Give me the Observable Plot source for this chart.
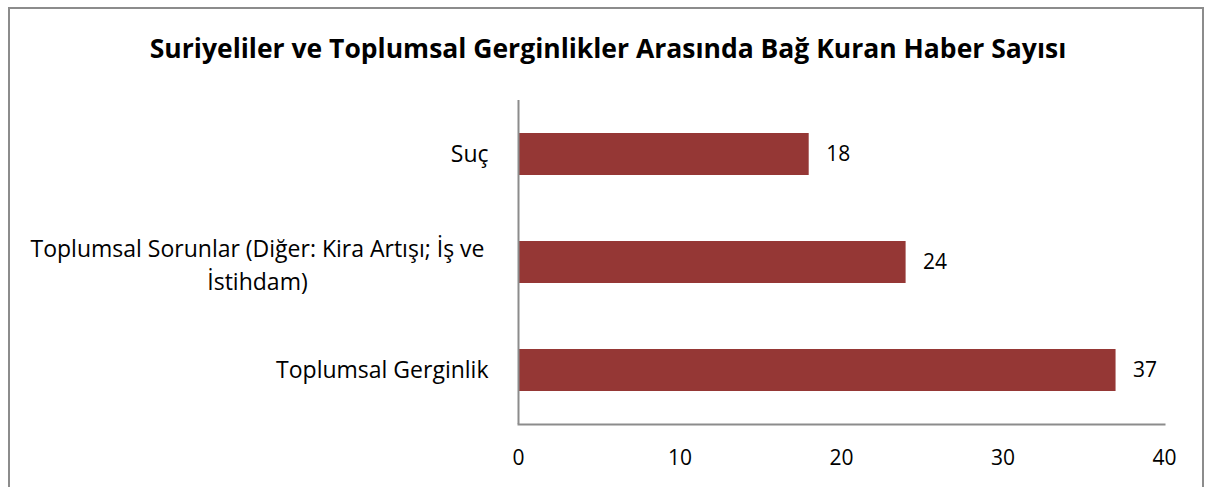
<!DOCTYPE html>
<html><head><meta charset="utf-8">
<script src="https://cdn.jsdelivr.net/npm/d3@7"></script>
<script src="https://cdn.jsdelivr.net/npm/@observablehq/plot@0.6"></script>
<style>
html,body{margin:0;padding:0;background:#fff;overflow:hidden;}
#wrap{position:relative;width:1210px;height:487px;overflow:hidden;font-family:"Open Sans",sans-serif;}
#border{position:absolute;left:8px;top:7px;width:1196px;height:520px;border:2px solid #8c8c8c;box-sizing:border-box;}
#title{position:absolute;left:0;top:30px;width:1216px;text-align:center;font-weight:bold;font-size:26.5px;color:#000;}
#chart{position:absolute;left:0;top:0;}
</style></head>
<body>
<div id="wrap"><div id="border"></div><div id="title">Suriyeliler ve Toplumsal Gerginlikler Arasında Bağ Kuran Haber Sayısı</div><div id="chart"></div></div>
<script>
const categories = ["Suç", "Toplumsal Sorunlar (Diğer: Kira Artışı; İş ve İstihdam)", "Toplumsal Gerginlik"];
const labels = ["Suç", "Toplumsal Sorunlar (Diğer: Kira Artışı; İş ve\nİstihdam)", "Toplumsal Gerginlik"];
const values = [18, 24, 37];
const xTicks = [0, 10, 20, 30, 40];

const data = categories.map((c, i) => ({cat: c, label: labels[i], value: values[i], multi: labels[i].includes("\n")}));

const FS = 23;
const chart = Plot.plot({
  width: 1210,
  height: 487,
  marginTop: 100,
  marginBottom: 63,
  marginLeft: 518,
  marginRight: 46,
  style: {fontFamily: "'Open Sans', sans-serif", fontSize: FS + "px", background: "transparent", color: "#000"},
  x: {domain: [0, 40], ticks: xTicks},
  y: {domain: categories, paddingInner: 0.61, paddingOuter: 0.305},
  marks: [
    Plot.barX(data, {y: "cat", x: "value", fill: "#953735"}),
    Plot.text(data, {y: "cat", x: "value", text: d => String(d.value), textAnchor: "start", dx: 17, fontSize: 21, fill: "#000"}),
    Plot.text(data.filter(d => !d.multi), {y: "cat", text: "label", frameAnchor: "left", textAnchor: "end", dx: -30, fontSize: FS, fill: "#000"}),
    Plot.text(data.filter(d => d.multi), {y: "cat", text: "label", frameAnchor: "left", textAnchor: "middle", dx: -261, lineHeight: 1.45, fontSize: FS, fill: "#000"}),
    Plot.ruleX([0], {stroke: "#8c8c8c", strokeWidth: 2}),
    Plot.frame({anchor: "bottom", stroke: "#8c8c8c", strokeWidth: 2}),
    Plot.axisX({ticks: xTicks, tickSize: 0, tickPadding: 26, fontSize: 21, label: null}),
    Plot.axisY({ticks: [], label: null, tickSize: 0})
  ]
});
document.getElementById("chart").appendChild(chart);
</script>
</body></html>
